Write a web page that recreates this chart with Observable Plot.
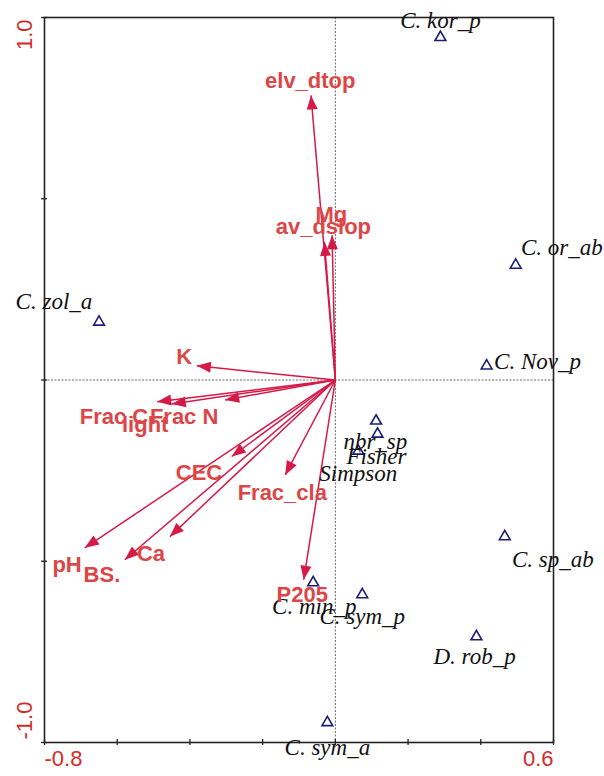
<!DOCTYPE html>
<html>
<head>
<meta charset="utf-8">
<script src="https://cdn.jsdelivr.net/npm/d3@7"></script>
<script src="https://cdn.jsdelivr.net/npm/@observablehq/plot@0.6"></script>
<style>
  html, body { margin: 0; padding: 0; background: #fff; }
  #chart svg { display: block; }
</style>
</head>
<body>
<div id="chart"></div>
<script>
// Environmental variables (arrows): tip coordinates and label coordinates (data units)
const envNames  = ["elv_dtop", "Mg", "av_dslop", "K", "Frac C", "light", "Frac N", "CEC", "Frac_cla", "pH", "BS.", "Ca", "P205"];
const envX      = [-0.067, -0.009, -0.030, -0.381, -0.490, -0.450, -0.303, -0.285, -0.138, -0.689, -0.579, -0.455, -0.087];
const envY      = [ 0.785,  0.399,  0.381,  0.039, -0.060, -0.066, -0.055, -0.211, -0.262, -0.463, -0.496, -0.432, -0.551];
const envLabelX = [-0.069, -0.011, -0.033, -0.416, -0.609, -0.523, -0.416, -0.375, -0.146, -0.738, -0.642, -0.507, -0.091];
const envLabelY = [ 0.826,  0.455,  0.421,  0.063, -0.102, -0.124, -0.102, -0.256, -0.311, -0.510, -0.537, -0.479, -0.592];

// Species / indices (triangles): point coordinates and label coordinates (data units)
const spNames  = ["C. kor_p", "C. or_ab", "C. Nov_p", "C. zol_a", "nbr_sp", "Fisher", "Simpson", "C. min_p", "C. sym_p", "C. sp_ab", "D. rob_p", "C. sym_a"];
const spX      = [0.289, 0.496, 0.416, -0.650, 0.112, 0.116, 0.063, -0.061, 0.074, 0.466, 0.388, -0.022];
const spY      = [0.945, 0.317, 0.039,  0.160, -0.113, -0.149, -0.196, -0.559, -0.592, -0.432, -0.708, -0.945];
const spLabelX = [0.289, 0.623, 0.556, -0.774, 0.110, 0.113, 0.063, -0.058, 0.074, 0.598, 0.383, -0.022];
const spLabelY = [0.992, 0.366, 0.050,  0.215, -0.171, -0.212, -0.259, -0.625, -0.653, -0.496, -0.763, -1.014];

// Axes
const xDomain = [-0.8, 0.6];
const yDomain = [-1.0, 1.0];
const xTicks = [-0.8, -0.6, -0.4, -0.2, 0.0, 0.2, 0.4, 0.6];
const yTicks = [-1.0, -0.5, 0.0, 0.5, 1.0];
const xTickLabels = [-0.8, 0.6];
const yTickLabels = [1.0, -1.0];

const arrows = envNames.map((name, i) => ({name, x: envX[i], y: envY[i], lx: envLabelX[i], ly: envLabelY[i]}));
const species = spNames.map((name, i) => ({name, x: spX[i], y: spY[i], lx: spLabelX[i], ly: spLabelY[i]}));

const arrowColor = "#d51a48";
const envTextColor = "#dd4646";
const axisTextColor = "#d22b2b";
const spColor = "#1c1c78";

// Filled arrow head, tip at origin pointing up
const headSymbol = {
  draw(ctx) {
    ctx.moveTo(0, 0);
    ctx.lineTo(-5.5, 14);
    ctx.lineTo(5.5, 14);
    ctx.closePath();
  }
};

const chart = Plot.plot({
  width: 604,
  height: 776,
  marginLeft: 44,
  marginRight: 51,
  marginTop: 17,
  marginBottom: 34,
  x: {domain: xDomain, axis: null},
  y: {domain: yDomain, axis: null},
  style: {background: "#fff", overflow: "visible"},
  marks: [
    // zero lines (dotted)
    Plot.ruleX([0], {stroke: "#666", strokeWidth: 1, strokeDasharray: "2,1.5"}),
    Plot.ruleY([0], {stroke: "#666", strokeWidth: 1, strokeDasharray: "2,1.5"}),
    // frame
    Plot.frame({stroke: "#222", strokeWidth: 1.6}),
    // ticks crossing the axes
    Plot.axisX({ticks: xTicks, anchor: "bottom", tickSize: 6, dy: -3, tickFormat: () => "", stroke: "#222", strokeWidth: 1.3}),
    Plot.axisY({ticks: yTicks, anchor: "left", tickSize: 6, dx: 3, tickFormat: () => "", stroke: "#222", strokeWidth: 1.3}),
    // tick labels
    Plot.text([xTickLabels[0]], {x: d => d, frameAnchor: "bottom", dy: 23, textAnchor: "start", text: d => d.toFixed(1), fill: axisTextColor, fontSize: 22, fontFamily: "Liberation Sans, Arial, sans-serif"}),
    Plot.text([xTickLabels[1]], {x: d => d, frameAnchor: "bottom", dy: 23, textAnchor: "end", text: d => d.toFixed(1), fill: axisTextColor, fontSize: 22, fontFamily: "Liberation Sans, Arial, sans-serif"}),
    Plot.text([yTickLabels[0]], {y: d => d, frameAnchor: "left", dx: -20, dy: 2, rotate: -90, textAnchor: "end", text: d => d.toFixed(1), fill: axisTextColor, fontSize: 22, fontFamily: "Liberation Sans, Arial, sans-serif"}),
    Plot.text([yTickLabels[1]], {y: d => d, frameAnchor: "left", dx: -20, dy: -3, rotate: -90, textAnchor: "start", text: d => d.toFixed(1), fill: axisTextColor, fontSize: 22, fontFamily: "Liberation Sans, Arial, sans-serif"}),
    // arrows
    Plot.link(arrows, {x1: d => 0, y1: d => 0, x2: "x", y2: "y", stroke: arrowColor, strokeWidth: 1.5}),
    Plot.dot(arrows, {x: "x", y: "y", symbol: headSymbol, r: 5, fill: arrowColor, stroke: "none", rotate: d => Math.atan2(d.x, d.y) * 180 / Math.PI}),
    // species triangles
    Plot.dot(species, {x: "x", y: "y", symbol: "triangle", r: 4, stroke: spColor, strokeWidth: 1.6, fill: "none"}),
    // species labels
    Plot.text(species, {x: "lx", y: "ly", text: "name", fill: "#111", fontSize: 23, fontStyle: "italic", fontFamily: "Liberation Serif, Times New Roman, serif", textAnchor: "middle", lineAnchor: "middle"}),
    // env labels
    Plot.text(arrows, {x: "lx", y: "ly", text: "name", fill: envTextColor, fontSize: 22, fontWeight: "bold", fontFamily: "Liberation Sans, Arial, sans-serif", textAnchor: "middle", lineAnchor: "middle"})
  ]
});

document.getElementById("chart").appendChild(chart);
</script>
</body>
</html>
